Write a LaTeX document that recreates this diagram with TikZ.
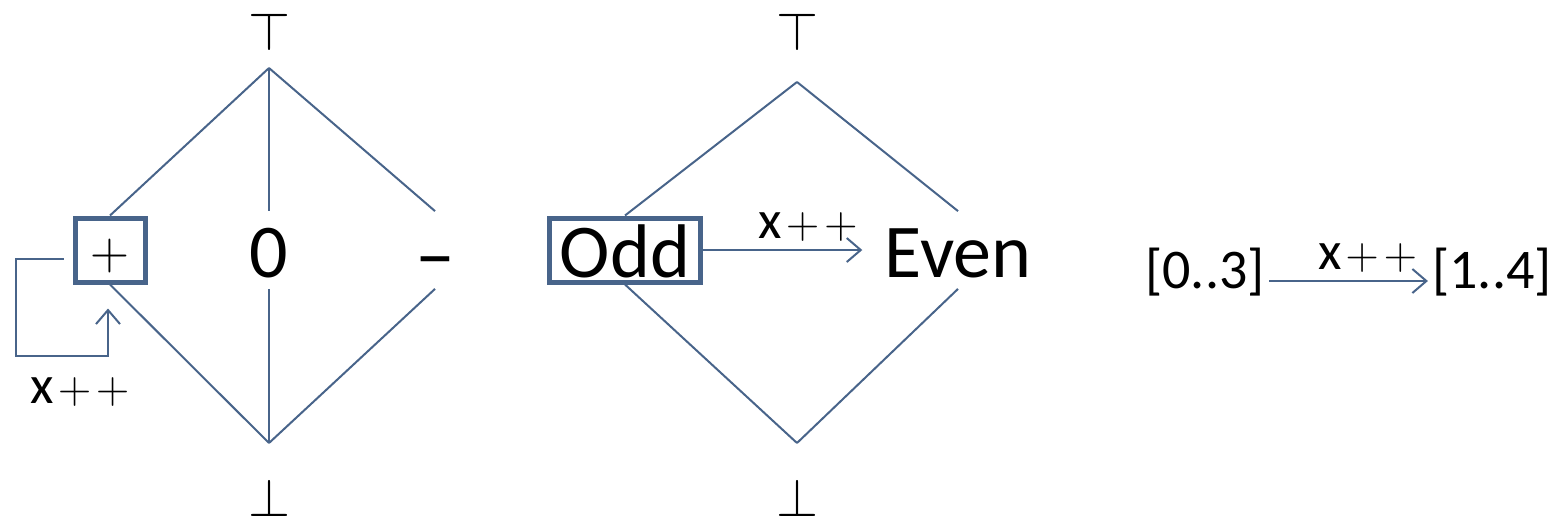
\documentclass[tikz,border=0pt]{standalone}
\usepackage{fix-cm}
\usepackage{fontspec}
\setmainfont{Carlito}
\usetikzlibrary{arrows.meta,positioning}
\definecolor{latblue}{HTML}{48648A}
\newcommand{\incr}{x\hspace{2pt}{\fontsize{23}{28}\selectfont$\mathord{+}\mkern2mu\mathord{+}$}}

\begin{document}
\begin{tikzpicture}[x=0.5pt,y=-0.5pt,
    edge/.style={draw=latblue,line width=1pt},
    arr/.style={edge,-{Straight Barb[length=7pt,width=12pt]}},
    elem/.style={font=\fontsize{38}{46}\selectfont,text height=32.75pt,text depth=5.75pt,inner sep=0pt},
    boxed/.style={elem,draw=latblue,line width=2.5pt,text height=29.75pt,text depth=2.25pt},
    lbl/.style={font=\fontsize{27}{32}\selectfont,inner sep=4pt},
    ends/.style={font=\fontsize{27}{30}\selectfont,inner sep=0pt}]
    \useasboundingbox (0,0) rectangle (1557,521);
    % sign lattice
    \coordinate (ltop) at (269,68);
    \coordinate (lbot) at (269,443);
    \node[ends] (ltopsym) at (269,32) {$\top$};
    \node[ends] (lbotsym) at (269,498) {$\bot$};
    \node[boxed,minimum width=35pt,font=\fontsize{27}{32}\selectfont,text height=25.75pt,text depth=6.25pt] (plus) at (110,250) {$+$};
    \node[elem] (zero) at (269,250) {0};
    \node[elem,font=\fontsize{40}{48}\selectfont,text height=34.75pt,text depth=3.75pt] (minus) at (435,250) {–};
    \draw[edge] (ltop) -- (plus.north);
    \draw[edge] (ltop) -- (zero.north);
    \draw[edge] (ltop) -- (minus.north);
    \draw[edge] (plus.south) -- (lbot);
    \draw[edge] (zero.south) -- (lbot);
    \draw[edge] (minus.south) -- (lbot);
    \draw[arr] ([shift={(-9,9)}]plus.west) -- ++(-48,0) |- ([shift={(-2,71)}]plus.south) -- ([shift={(-2,24)}]plus.south);
    \node[lbl] (plusx) at (80,392) {\incr};
    % parity lattice
    \coordinate (ptop) at (797,82);
    \coordinate (pbot) at (797,443);
    \node[ends] (ptopsym) at (797,32) {$\top$};
    \node[ends] (pbotsym) at (797,498) {$\bot$};
    \node[boxed,minimum width=75.5pt] (odd) at (625,250) {Odd};
    \node[elem] (even) at (958,250) {Even};
    \draw[edge] (ptop) -- (odd.north);
    \draw[edge] (ptop) -- (even.north);
    \draw[edge] (odd.south) -- (pbot);
    \draw[edge] (even.south) -- (pbot);
    \draw[arr,shorten >=11pt] (odd) -- node[lbl,above,pos=0.58] (oddx) {\incr} (even);
    % interval
    \node[font=\fontsize{28}{34}\selectfont,inner sep=2pt] (lo) at (1205,272) {[0..3]};
    \node[font=\fontsize{28}{34}\selectfont,inner sep=2pt] (hi) at (1492,272) {[1..4]};
    \draw[arr] ([shift={(0,9)}]lo.east) -- node[lbl,above,pos=0.62] (lox) {\incr} ([shift={(0,9)}]hi.west);
\end{tikzpicture}
\end{document}
